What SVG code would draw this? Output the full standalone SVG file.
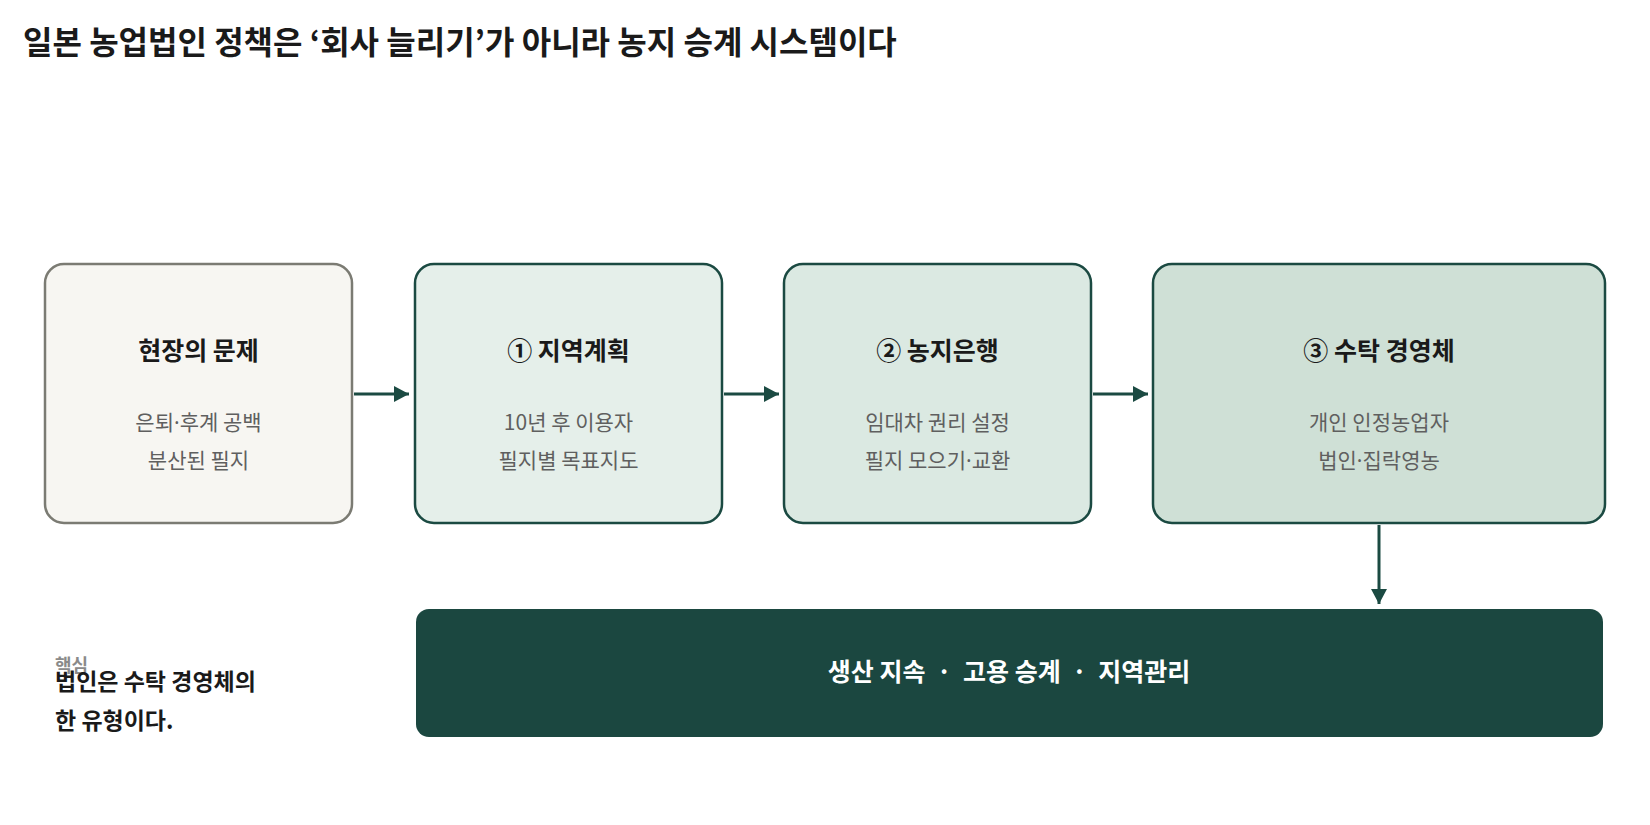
<svg xmlns="http://www.w3.org/2000/svg" width="1650" height="825" viewBox="0 0 1650 825">
<style>
text{font-family:"Noto Sans CJK KR","Noto Sans CJK SC",sans-serif}
.ttl{font-size:32px;font-weight:700;fill:#1a1a1a}
.bt{font-size:25px;font-weight:700;fill:#1a1a1a;text-anchor:middle}
.bs{font-size:21px;font-weight:400;fill:#5f5f5f;text-anchor:middle}
.dot{font-family:"Noto Sans",sans-serif}
.box{stroke:#1b4a42;stroke-width:2.5}
.conn{stroke:#1b4a42;stroke-width:3;fill:none}
.bar{font-size:25px;font-weight:700;fill:#ffffff;text-anchor:middle;white-space:pre}
.key{font-size:18px;font-weight:700;fill:#8a8a8a}
.note{font-size:23px;font-weight:700;fill:#1a1a1a}
</style>
<defs>
<marker id="ah" markerUnits="userSpaceOnUse" markerWidth="16" markerHeight="16" refX="15" refY="8" orient="auto">
<path d="M0,0 L15,8 L0,16 Z" fill="#1b4a42"/>
</marker>
</defs>
<rect width="1650" height="825" fill="#ffffff"/>
<text id="title" class="ttl" x="23" y="54">일본 농업법인 정책은 ‘회사 늘리기’가 아니라 농지 승계 시스템이다</text>
<g id="node-problem">
<rect x="45" y="264" width="307" height="259" rx="19" fill="#f7f6f2" stroke="#7b7b73" stroke-width="2.5"/>
<text class="bt" x="198.5" y="360">현장의 문제</text>
<text class="bs" x="198.5" y="430">은퇴<tspan class="dot">·</tspan>후계 공백</text>
<text class="bs" x="198.5" y="468">분산된 필지</text>
</g>
<g id="node-plan">
<rect class="box" x="415" y="264" width="307" height="259" rx="19" fill="#e5efea"/>
<text class="bt" x="568.5" y="360">① 지역계획</text>
<text class="bs" x="568.5" y="430">10년 후 이용자</text>
<text class="bs" x="568.5" y="468">필지별 목표지도</text>
</g>
<g id="node-bank">
<rect class="box" x="784" y="264" width="307" height="259" rx="19" fill="#dbe9e2"/>
<text class="bt" x="937.5" y="360">② 농지은행</text>
<text class="bs" x="937.5" y="430">임대차 권리 설정</text>
<text class="bs" x="937.5" y="468">필지 모으기<tspan class="dot">·</tspan>교환</text>
</g>
<g id="node-entity">
<rect class="box" x="1153" y="264" width="452" height="259" rx="19" fill="#cfe0d6"/>
<text class="bt" x="1379" y="360">③ 수탁 경영체</text>
<text class="bs" x="1379" y="430">개인 인정농업자</text>
<text class="bs" x="1379" y="468">법인<tspan class="dot">·</tspan>집락영농</text>
</g>
<g id="node-outcome">
<rect x="416" y="609" width="1187" height="128" rx="13" fill="#1b4740"/>
<text class="bar" x="1009" y="681">생산 지속  ·  고용 승계  ·  지역관리</text>
</g>
<g id="note">
<text class="key" x="55" y="672">핵심</text>
<text class="note" x="55" y="690">법인은 수탁 경영체의</text>
<text class="note" x="55" y="729">한 유형이다.</text>
</g>
<g id="connectors">
<line class="conn" x1="354" y1="394" x2="409" y2="394" marker-end="url(#ah)"/>
<line class="conn" x1="724" y1="394" x2="779" y2="394" marker-end="url(#ah)"/>
<line class="conn" x1="1093" y1="394" x2="1148" y2="394" marker-end="url(#ah)"/>
<line class="conn" x1="1379" y1="525" x2="1379" y2="604" marker-end="url(#ah)"/>
</g>
</svg>
